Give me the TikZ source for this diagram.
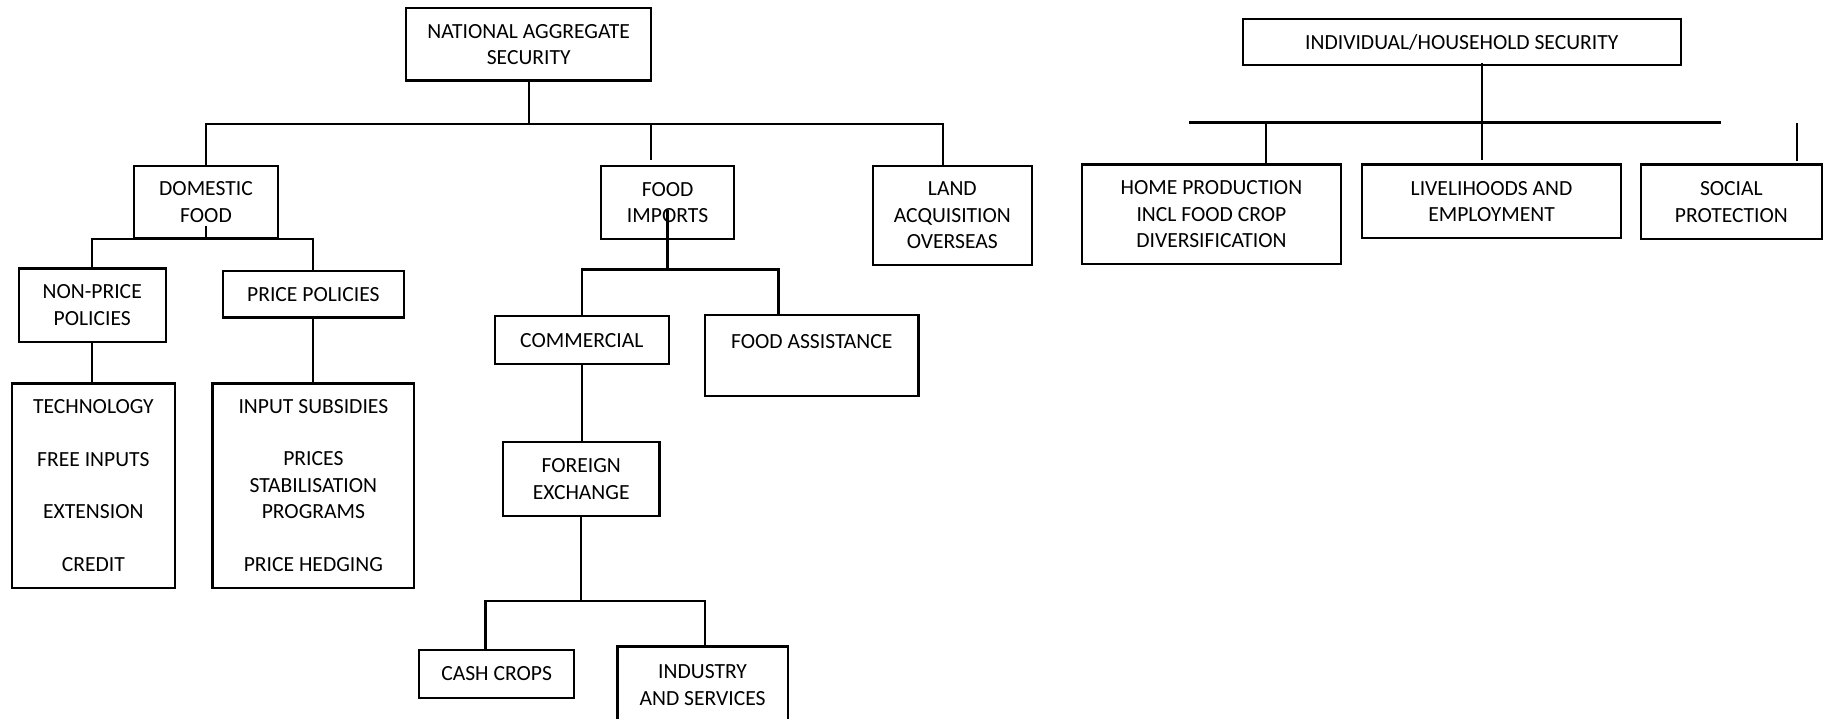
\documentclass[tikz,border=0pt]{standalone}
\usepackage{fontspec}
\setmainfont{Carlito}
\usetikzlibrary{positioning}

\begin{document}
\begin{tikzpicture}[x=1pt,y=-1pt,line width=1.9pt,
	box/.style={draw,line width=1.9pt,align=center,inner sep=0pt,
		font=\fontsize{18.5}{22.7}\selectfont}]
	\useasboundingbox (0,0) rectangle (1568,616);
%	national side
	\node[box,minimum width=210pt,minimum height=62pt] (nat) at (453,38) {NATIONAL AGGREGATE\\SECURITY};
	\node[box,minimum width=123pt,minimum height=62pt] (dom) at (176.5,173) {DOMESTIC\\FOOD};
	\node[box,minimum width=114pt,minimum height=63pt] (imp) at (572,173.5) {FOOD\\IMPORTS};
	\node[box,minimum width=136pt,minimum height=85pt] (land) at (816,184.5) {LAND\\ACQUISITION\\OVERSEAS};
	\node[box,minimum width=126pt,minimum height=63pt] (nonp) at (79,261.5) {NON-PRICE\\POLICIES};
	\node[box,minimum width=155pt,minimum height=40pt] (price) at (268.5,252) {PRICE POLICIES};
	\node[box,minimum width=140pt,minimum height=175pt] (tech) at (80,416)
		{TECHNOLOGY\\[22.2pt]FREE INPUTS\\[22.2pt]EXTENSION\\[22.2pt]CREDIT};
	\node[box,minimum width=173pt,minimum height=175pt] (subs) at (268.5,416)
		{INPUT SUBSIDIES\\[22.5pt]PRICES\\STABILISATION\\PROGRAMS\\[22.5pt]PRICE HEDGING};
	\node[box,minimum width=149pt,minimum height=41pt] (comm) at (498.5,291.5) {COMMERCIAL};
	\node[box,minimum width=183pt,text height=28.2pt,text depth=40.8pt] (assist) at (695.5,304.5) {FOOD ASSISTANCE};
	\node[box,minimum width=134pt,minimum height=63pt] (forex) at (498,410.5) {FOREIGN\\EXCHANGE};
	\node[box,minimum width=133pt,minimum height=41pt] (cash) at (425.5,577.5) {CASH CROPS};
	\node[box,minimum width=146pt,minimum height=66pt] (ind) at (602,587) {INDUSTRY\\AND SERVICES};
%	household side
	\node[box,minimum width=375pt,minimum height=40pt] (indiv) at (1252.5,36) {INDIVIDUAL/HOUSEHOLD SECURITY};
	\node[box,minimum width=222pt,minimum height=85pt] (home) at (1038,183.5) {HOME PRODUCTION\\INCL FOOD CROP\\DIVERSIFICATION};
	\node[box,minimum width=222pt,minimum height=63pt] (live) at (1278,172.5) {LIVELIHOODS AND\\EMPLOYMENT};
	\node[box,minimum width=155pt,minimum height=64pt] (social) at (1483.5,173) {SOCIAL\\PROTECTION};

%	connectors
	\coordinate (natbar) at (0,106);
	\draw (nat.south) -- (nat.south |- natbar);
	\draw (dom.north) |- ([xshift=-8pt]land.north |- natbar) -- ([xshift=-8pt]land.north);
	\draw ([xshift=-14pt]imp.north |- natbar) -- ([xshift=-14pt,yshift=4pt]imp.north);
	\draw ([yshift=11pt]dom.south) -- (dom.south);
	\draw (nonp.north) |- (price.north |- dom.south) -- (price.north);
	\draw (nonp.south) -- (nonp.south |- tech.north);
	\draw (price.south) -- (subs.north);
	\coordinate (impbar) at (0,231);
	\draw ([yshift=-6.5pt]imp.center) -- (imp.center |- impbar);
	\draw (comm.north) |- ([xshift=-28.5pt]assist.north |- impbar) -- ([xshift=-28.5pt]assist.north);
	\draw (comm.south) -- (comm.south |- forex.north);
	\coordinate (fxbar) at (0,515);
	\draw (forex.south) -- (forex.south |- fxbar);
	\draw ([xshift=-9.5pt]cash.north) |- ([xshift=2pt]ind.north |- fxbar) -- ([xshift=2pt]ind.north);
	\coordinate (hhL) at (1019,105);
	\coordinate (hhR) at (1475,105);
	\draw (hhL) -- (hhR);
	\draw ([xshift=17.5pt,yshift=3pt]indiv.south) -- ([xshift=-8pt,yshift=3pt]live.north);
	\draw ([xshift=47pt]home.north) -- ([xshift=47pt]home.north |- hhL);
	\draw ([xshift=56.5pt,yshift=2pt]social.north) -- ([xshift=56.5pt]social.north |- hhL);
\end{tikzpicture}
\end{document}
